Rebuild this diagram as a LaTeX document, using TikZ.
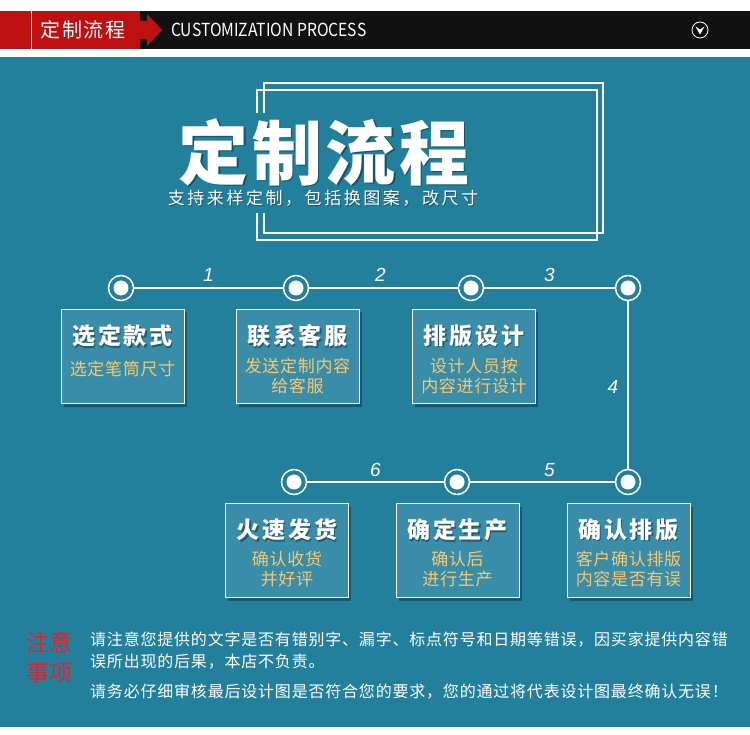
\documentclass[tikz,border=0pt]{standalone}
\usepackage{fontspec}
\setmainfont{Noto Sans CJK SC}
\newfontfamily\numfont{Liberation Sans}
\usetikzlibrary{shadows}
\definecolor{bgteal}{RGB}{35,128,157}
\definecolor{cardfill}{RGB}{58,141,168}
\definecolor{gold}{RGB}{248,200,110}
\definecolor{hdrred}{RGB}{190,16,16}
\definecolor{hdrblack}{RGB}{17,17,17}
\definecolor{notered}{RGB}{232,30,40}
\newcommand{\FrameA}{(264,113) -- (264,83) -- (603,83) -- (603,233) -- (264,233) -- (264,213)}
\newcommand{\FrameB}{(257,113) -- (257,90) -- (597,90) -- (597,240) -- (257,240) -- (257,213)}
\newcommand{\headtext}[3]{%
\node[cardhead,text=black,opacity=0.35] (#1s) at ([xshift=1.2pt,yshift=18.6pt]#2.center) {#3};
\node[cardhead] (#1) at ([yshift=20pt]#2.center) {#3};}

\begin{document}
\begin{tikzpicture}[x=1pt,y=-1pt,
  dot/.style={circle,draw=white,line width=1.5pt,minimum size=25pt,inner sep=0pt,
    path picture={\fill[white] (path picture bounding box.center) circle (7.5pt);}},
  card/.style={draw=white,line width=0.9pt,fill=cardfill,minimum width=123pt,minimum height=94pt,
    inner sep=0pt,drop shadow={shadow xshift=2.5pt,shadow yshift=-3.5pt,opacity=0.3,fill=black}},
  cardhead/.style={text=white,inner sep=0pt,font=\bfseries\fontsize{23}{25}\selectfont\addfontfeature{LetterSpace=12}},
  cardsub/.style={text=gold,inner sep=0pt,align=center,font=\fontsize{17}{20}\selectfont\addfontfeature{LetterSpace=4}},
  num/.style={text=white,inner sep=0pt,font=\numfont\itshape\fontsize{19}{19}\selectfont},
  link/.style={white,line width=1.5pt}]
\useasboundingbox (0,0) rectangle (750,735);
\fill[white] (0,0) rectangle (750,735);
\fill[hdrblack] (0,11) rectangle (750,49);
\fill[hdrred] (0,11) rectangle (140,49);
\fill[hdrred] (140,21) -- (147,21) -- (147,14) -- (162,30) -- (147,46) -- (147,39) -- (140,39) -- cycle;
\draw[white,line width=1pt] (31,11) -- (31,49);
\node[text=white,font=\fontsize{20}{20}\selectfont\addfontfeature{LetterSpace=8}] (hdrcn) at (83,30) {定制流程};
\node[anchor=west,text=white,inner sep=0pt,font=\fontsize{18}{18}\selectfont\addfontfeature{FakeStretch=0.87}] (hdren) at (171,30) {CUSTOMIZATION PROCESS};
\node[circle,draw=white,line width=0.8pt,minimum size=16pt,inner sep=0pt] (hdricon) at (700,30) {};
\fill[white] (695.5,26.5) -- (700,29.5) -- (704.5,26.5) -- (700,34.5) -- cycle;
\fill[bgteal] (0,57) rectangle (750,727);

\draw[white,line width=1.1pt] \FrameA;
\draw[white,line width=1.1pt] \FrameB;
\node[text=black,opacity=0.35,font=\bfseries\fontsize{70}{70}\selectfont\addfontfeature{LetterSpace=5}] (bigs) at (325.3,153.3) {定制流程};
\node[text=white,font=\bfseries\fontsize{70}{70}\selectfont\addfontfeature{LetterSpace=5}] (big) at (324,152) {定制流程};
\node[text=black,opacity=0.3,font=\fontsize{17}{17}\selectfont\addfontfeature{LetterSpace=15}] (subs) at (324,199) {支持来样定制，包括换图案，改尺寸};
\node[text=white,font=\fontsize{17}{17}\selectfont\addfontfeature{LetterSpace=15}] (sub) at (323,198) {支持来样定制，包括换图案，改尺寸};

\node[dot] (c1) at (121,288) {};
\node[dot] (c2) at (296,288) {};
\node[dot] (c3) at (471,288) {};
\node[dot] (c4) at (628,288) {};
\node[dot] (c5) at (628,482) {};
\node[dot] (c6) at (457,482) {};
\node[dot] (c7) at (294,482) {};
\draw[link] (c1) -- node[num,yshift=13pt] {1} (c2);
\draw[link] (c2) -- node[num,yshift=13pt,xshift=-3pt] {2} (c3);
\draw[link] (c3) -- node[num,yshift=13pt] {3} (c4);
\draw[link] (c4) -- node[num,xshift=-15pt,yshift=-2pt] {4} (c5);
\draw[link] (c5) -- node[num,yshift=12pt,xshift=7pt] {5} (c6);
\draw[link] (c6) -- node[num,yshift=12pt] {6} (c7);

\node[card] (select) at (122.5,356) {};
\node[card] (contact) at (297.5,356) {};
\node[card] (layout) at (474,356) {};
\node[card] (confirm) at (628.5,550) {};
\node[card] (produce) at (457.5,550) {};
\node[card] (ship) at (287,550) {};
\headtext{h1}{select}{选定款式}
\headtext{h2}{contact}{联系客服}
\headtext{h3}{layout}{排版设计}
\headtext{h4}{confirm}{确认排版}
\headtext{h5}{produce}{确定生产}
\headtext{h6}{ship}{火速发货}
\node[cardsub] (s1) at ([yshift=-13pt]select.center) {选定笔筒尺寸};
\node[cardsub] (s2) at ([yshift=-20pt]contact.center) {发送定制内容\\给客服};
\node[cardsub] (s3) at ([yshift=-20pt]layout.center) {设计人员按\\内容进行设计};
\node[cardsub] (s4) at ([yshift=-19pt]confirm.center) {客户确认排版\\内容是否有误};
\node[cardsub] (s5) at ([yshift=-19pt]produce.center) {确认后\\进行生产};
\node[cardsub] (s6) at ([yshift=-19pt]ship.center) {确认收货\\并好评};

\node[text=notered,inner sep=0pt,font=\fontsize{23}{23}\selectfont] (n1) at (49,643) {注意};
\node[text=notered,inner sep=0pt,font=\fontsize{23}{23}\selectfont] (n2) at (49,673) {事项};
\node[anchor=west,text=white,inner sep=0pt,font=\fontsize{16}{16}\selectfont\addfontfeature{LetterSpace=5}] (t1) at (90,640) {请注意您提供的文字是否有错别字、漏字、标点符号和日期等错误，因买家提供内容错};
\node[anchor=west,text=white,inner sep=0pt,font=\fontsize{16}{16}\selectfont\addfontfeature{LetterSpace=5}] (t2) at (90,662) {误所出现的后果，本店不负责。};
\node[anchor=west,text=white,inner sep=0pt,font=\fontsize{16}{16}\selectfont\addfontfeature{LetterSpace=5}] (t3) at (90,692) {请务必仔细审核最后设计图是否符合您的要求，您的通过将代表设计图最终确认无误！};
\end{tikzpicture}
\end{document}
